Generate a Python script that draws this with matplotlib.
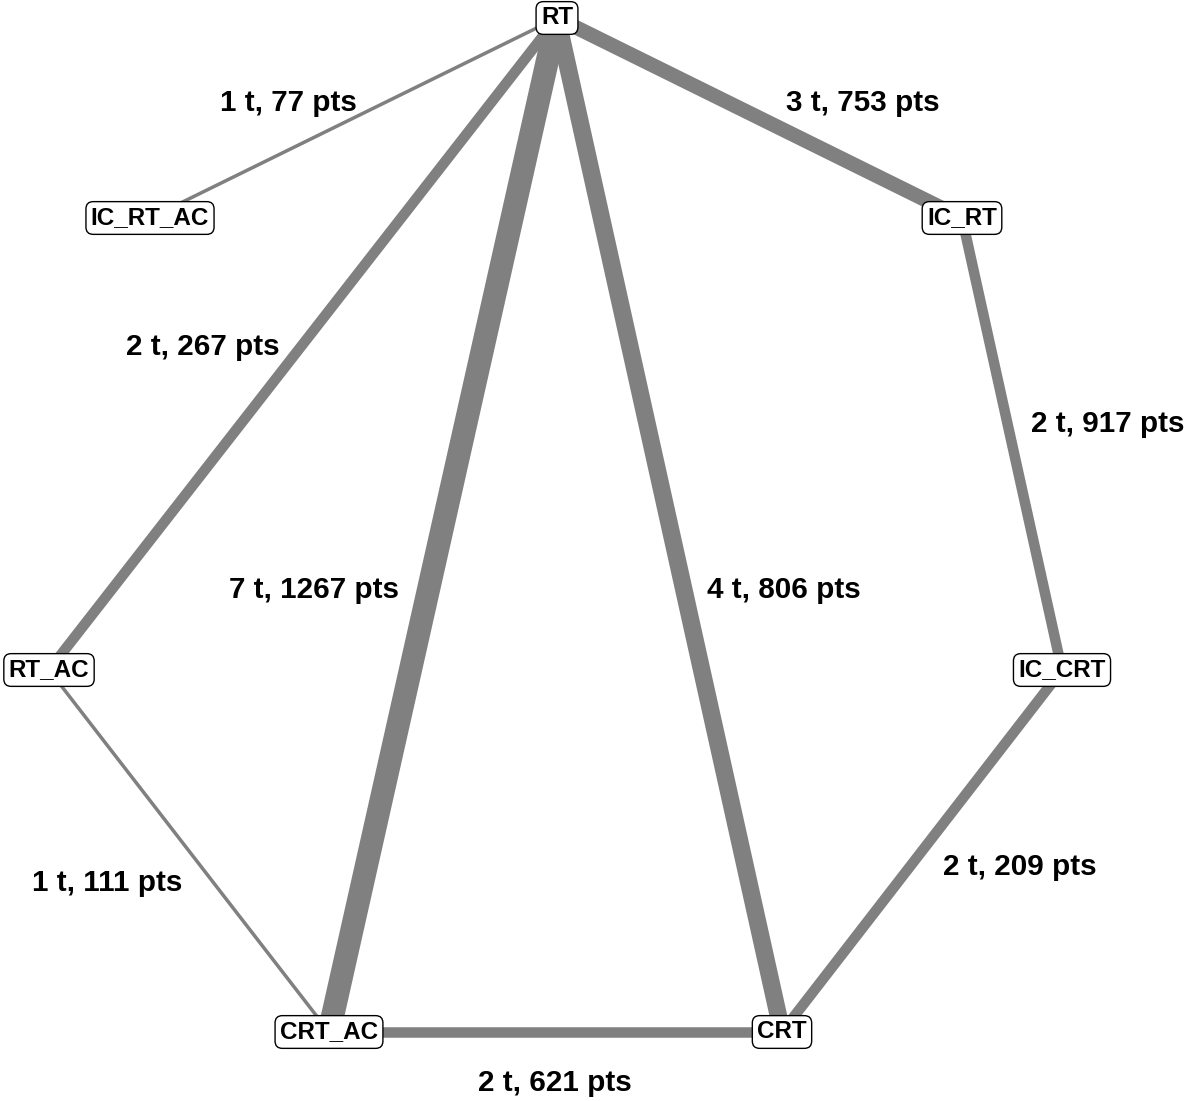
import numpy as np
import matplotlib
matplotlib.use("Agg")
import matplotlib.pyplot as plt

plt.rcParams['font.family'] = ['Liberation Sans', 'DejaVu Sans']

# ---- data ----
nodes = ["RT", "IC_RT_AC", "IC_RT", "RT_AC", "IC_CRT", "CRT_AC", "CRT"]
edge_src = ["RT", "RT", "RT", "RT", "RT", "IC_RT", "IC_CRT", "CRT_AC", "RT_AC"]
edge_dst = ["IC_RT_AC", "IC_RT", "RT_AC", "CRT_AC", "CRT", "IC_CRT", "CRT", "CRT", "CRT_AC"]
edge_trades = [1, 3, 2, 7, 4, 2, 2, 2, 1]
edge_points = [77, 753, 267, 1267, 806, 917, 209, 621, 111]

# ---- layout (pixel coordinates) ----
pos = {
    "RT": (557, 18),
    "IC_RT_AC": (150, 218),
    "IC_RT": (962, 218),
    "RT_AC": (49, 670),
    "IC_CRT": (1062, 670),
    "CRT_AC": (329, 1032),
    "CRT": (782, 1032),
}
label_pos = [(288, 103), (863, 103), (203, 347), (314, 590), (784, 590),
             (1108, 424), (1020, 867), (555, 1083), (107, 883)]

W, H = 1189, 1101
fig = plt.figure(figsize=(W / 100, H / 100), dpi=100)
ax = fig.add_axes([0, 0, 1, 1])
ax.set_xlim(0, W)
ax.set_ylim(H, 0)
ax.axis('off')

for s, d, t, p, lp in zip(edge_src, edge_dst, edge_trades, edge_points, label_pos):
    x0, y0 = pos[s]
    x1, y1 = pos[d]
    width_px = 3.5 + 7 * np.log2(t)
    ax.plot([x0, x1], [y0, y1], color='#808080', lw=width_px * 0.72,
            solid_capstyle='butt', zorder=1)
    ax.text(lp[0], lp[1], f"{t} t, {p} pts", ha='center', va='center',
            fontsize=21.3, fontweight='bold', color='black', zorder=3)

for n in nodes:
    x, y = pos[n]
    ax.text(x, y, n, ha='center', va='center', fontsize=17.5, fontweight='bold',
            color='black', zorder=4,
            bbox=dict(boxstyle='round,pad=0.2,rounding_size=0.3', fc='white',
                      ec='black', lw=1.0))

fig.savefig("out.png", dpi=100)
